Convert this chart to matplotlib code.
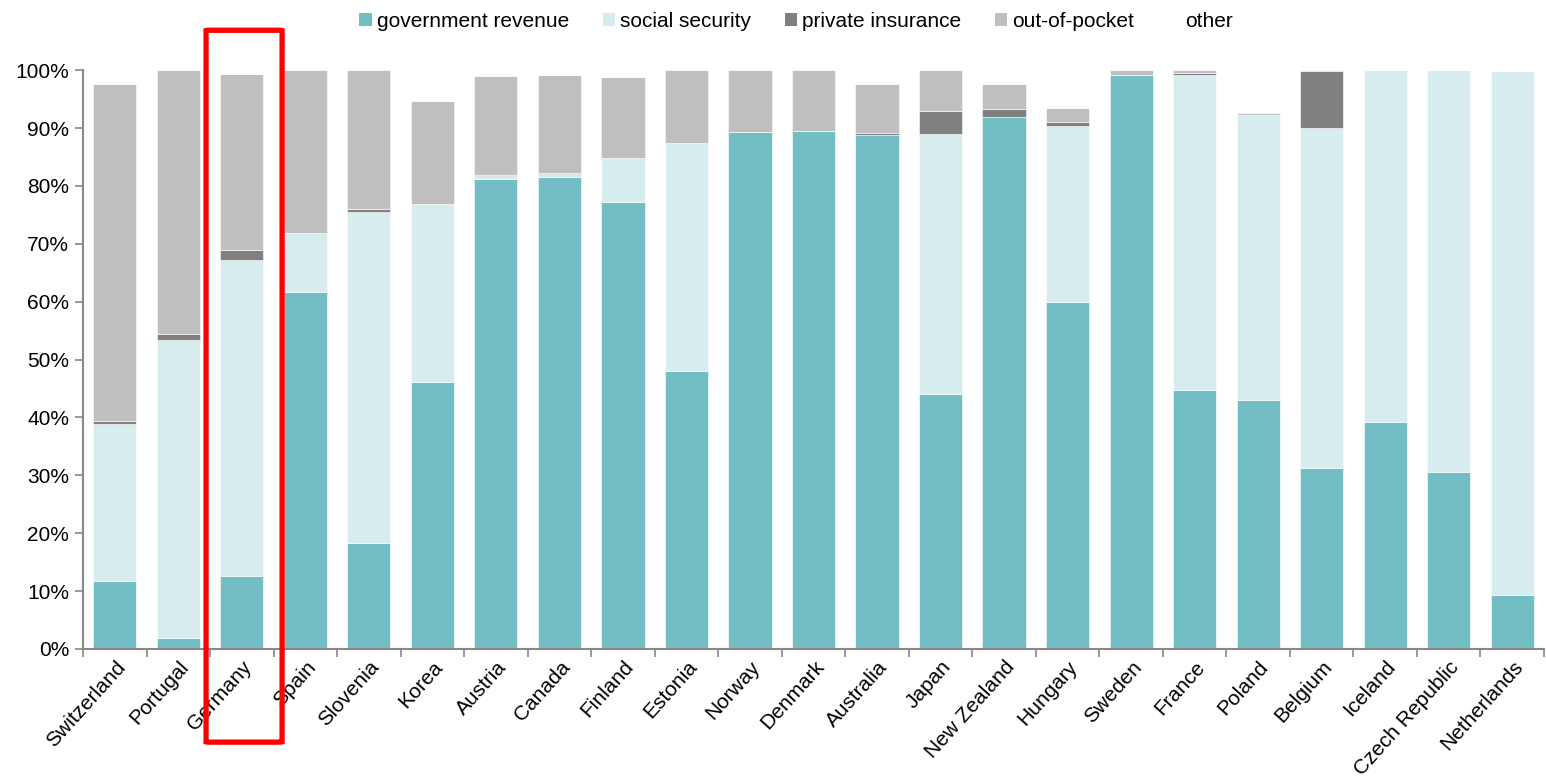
import matplotlib
matplotlib.use("Agg")
import matplotlib.pyplot as plt
from matplotlib.patches import Patch, FancyBboxPatch
import numpy as np

plt.rcParams['font.family'] = ['Liberation Sans', 'DejaVu Sans']

countries = ["Switzerland", "Portugal", "Germany", "Spain", "Slovenia", "Korea",
             "Austria", "Canada", "Finland", "Estonia", "Norway", "Denmark",
             "Australia", "Japan", "New Zealand", "Hungary", "Sweden", "France",
             "Poland", "Belgium", "Iceland", "Czech Republic", "Netherlands"]

government_revenue = [11.7, 1.9, 12.6, 61.7, 18.3, 46.1, 81.2, 81.6, 77.2, 48.1, 89.3, 89.5,
                      88.8, 44.1, 92.0, 60.0, 99.2, 44.7, 43.0, 31.2, 39.3, 30.6, 9.4]
social_security = [27.2, 51.5, 54.6, 10.2, 57.2, 30.8, 0.6, 0.4, 7.6, 39.4, 0.0, 0.0,
                   0.0, 44.8, 0.0, 30.3, 0.0, 54.5, 49.2, 58.8, 60.7, 69.4, 90.4]
private_insurance = [0.5, 1.1, 1.7, 0.0, 0.5, 0.0, 0.1, 0.3, 0.0, 0.0, 0.0, 0.0,
                     0.3, 4.0, 1.3, 0.7, 0.0, 0.3, 0.0, 9.8, 0.0, 0.0, 0.0]
out_of_pocket = [58.3, 45.5, 30.4, 28.1, 24.0, 17.7, 17.1, 16.9, 14.1, 12.5, 10.7, 10.5,
                 8.5, 7.1, 4.3, 2.5, 0.8, 0.5, 0.4, 0.2, 0.0, 0.0, 0.0]
other = [2.3, 0.0, 0.7, 0.0, 0.0, 5.4, 1.0, 0.8, 1.1, 0.0, 0.0, 0.0,
         2.4, 0.0, 2.4, 6.5, 0.0, 0.0, 7.4, 0.0, 0.0, 0.0, 0.2]

series = [
    ("government revenue", government_revenue, "#72BEC4"),
    ("social security", social_security, "#D6ECEF"),
    ("private insurance", private_insurance, "#808080"),
    ("out-of-pocket", out_of_pocket, "#BFBFBF"),
    ("other", other, "#FFFFFF"),
]

fig = plt.figure(figsize=(15.46, 7.80), dpi=100)
ax = fig.add_axes([0.0537, 0.168, 0.9450, 0.742])

x = np.arange(len(countries))
bottom = np.zeros(len(countries))
handles = []
for name, vals, col in series:
    v = np.array(vals)
    ax.bar(x, v, bottom=bottom, width=0.68, color=col, edgecolor="white", linewidth=0.4)
    bottom += v
    handles.append(Patch(facecolor=col, edgecolor="none", label=name))

ax.set_xlim(-0.5, len(countries) - 0.5)
ax.set_ylim(0, 100)
ax.set_yticks(np.arange(0, 101, 10))
ax.set_yticklabels([f"{t}%" for t in range(0, 101, 10)], fontsize=15)

ax.set_xticks(x)
ax.set_xticklabels(countries, rotation=48, ha="right", rotation_mode="anchor", fontsize=15)
ax.tick_params(axis="x", length=0, pad=6)
ax.set_xticks(np.arange(-0.5, len(countries), 1), minor=True)
ax.tick_params(axis="x", which="minor", length=6, color="#888888", width=1.2)
ax.tick_params(axis="y", length=6, color="#888888", width=1.2, pad=4)

for s in ["top", "right"]:
    ax.spines[s].set_visible(False)
for s in ["left", "bottom"]:
    ax.spines[s].set_color("#888888")
    ax.spines[s].set_linewidth(1.5)

leg = fig.legend(handles=handles, loc="center", bbox_to_anchor=(0.515, 0.973), ncol=5,
                 frameon=False, fontsize=15, handlelength=0.6, handleheight=0.6,
                 handletextpad=0.25, columnspacing=1.6)

# red highlight box around Germany
rect = FancyBboxPatch((1.437, -16.1), 2.634 - 1.437, 106.9 + 16.1,
                      boxstyle="round,pad=0,rounding_size=0.05",
                      transform=ax.transData, clip_on=False,
                      fill=False, edgecolor="#FF0000", linewidth=3.8, zorder=10)
ax.add_patch(rect)

fig.savefig("out.png", dpi=100)
